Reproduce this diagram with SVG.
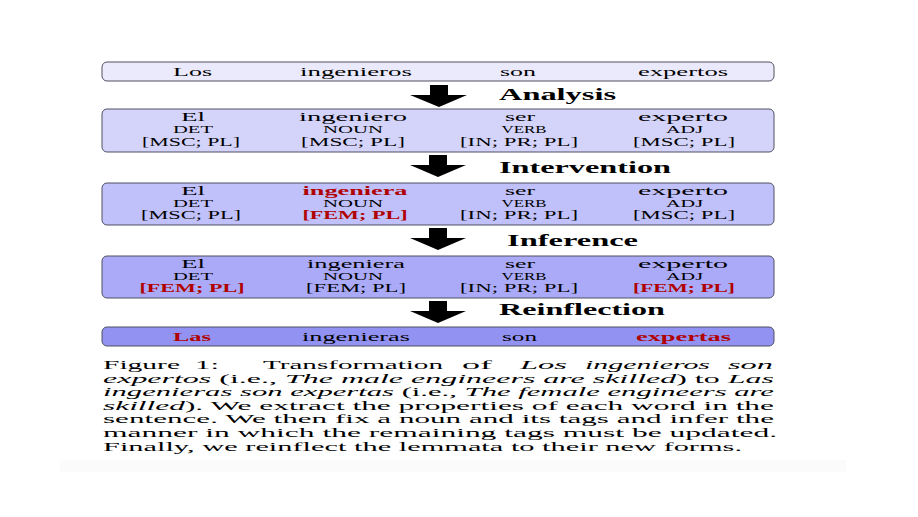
<svg xmlns="http://www.w3.org/2000/svg" width="918" height="517" viewBox="0 0 918 517">
<style>
text{font-family:"Liberation Serif","Times New Roman",serif;fill:#000}
.w{font-size:13.5px;text-anchor:middle}
.t{font-size:10px;text-anchor:middle}
.f{font-size:12.5px;text-anchor:middle}
.r{fill:#b00000;font-weight:bold}
.lab{font-size:17.5px;font-weight:bold}
.cap{font-size:12.5px}
.it{font-style:italic}
.box{stroke:#505060;stroke-width:1}
.arr{fill:#000}
</style>
<rect x="60" y="460" width="786" height="12" fill="#fbfbfb"/>
<g id="connectors">
<polygon class="arr" points="430,85 448,85 448,95 467,95 439,107 410,95 430,95"/>
<polygon class="arr" points="429,155 447,155 447,165 466,165 438,177 410,165 429,165"/>
<polygon class="arr" points="429,228 447,228 447,238 466,238 438,250 410,238 429,238"/>
<polygon class="arr" points="429,301 447,301 447,311 466,311 438,323 410,311 429,311"/>
</g>
<g id="label-analysis"><text class="lab" x="499" y="100" textLength="117" lengthAdjust="spacingAndGlyphs">Analysis</text></g>
<g id="label-intervention"><text class="lab" x="499" y="173" textLength="172" lengthAdjust="spacingAndGlyphs">Intervention</text></g>
<g id="label-inference"><text class="lab" x="507" y="246" textLength="131" lengthAdjust="spacingAndGlyphs">Inference</text></g>
<g id="label-reinflection"><text class="lab" x="499" y="315" textLength="166" lengthAdjust="spacingAndGlyphs">Reinflection</text></g>

<g id="box-input">
<rect class="box" x="102" y="62" width="672" height="19" rx="5" fill="#eaeafc"/>
<text class="w" x="192.5" y="76" textLength="39" lengthAdjust="spacingAndGlyphs">Los</text>
<text class="w" x="356" y="76" textLength="112" lengthAdjust="spacingAndGlyphs">ingenieros</text>
<text class="w" x="518" y="76" textLength="36" lengthAdjust="spacingAndGlyphs">son</text>
<text class="w" x="683" y="76" textLength="90" lengthAdjust="spacingAndGlyphs">expertos</text>
</g>

<g id="box-analysis">
<rect class="box" x="102" y="109" width="672" height="43" rx="5" fill="#d4d4fb"/>
<text class="w" x="193" y="121" textLength="24" lengthAdjust="spacingAndGlyphs">El</text>
<text class="t" x="193" y="133" textLength="40" lengthAdjust="spacingAndGlyphs">DET</text>
<text class="f" x="191" y="146" textLength="98" lengthAdjust="spacingAndGlyphs">[MSC; PL]</text>
<text class="w" x="353" y="121" textLength="108" lengthAdjust="spacingAndGlyphs">ingeniero</text>
<text class="t" x="353" y="133" textLength="60" lengthAdjust="spacingAndGlyphs">NOUN</text>
<text class="f" x="353" y="146" textLength="104" lengthAdjust="spacingAndGlyphs">[MSC; PL]</text>
<text class="w" x="520" y="121" textLength="30" lengthAdjust="spacingAndGlyphs">ser</text>
<text class="t" x="524" y="133" textLength="45" lengthAdjust="spacingAndGlyphs">VERB</text>
<text class="f" x="519" y="146" textLength="118" lengthAdjust="spacingAndGlyphs">[IN; PR; PL]</text>
<text class="w" x="683" y="121" textLength="90" lengthAdjust="spacingAndGlyphs">experto</text>
<text class="t" x="684.5" y="133" textLength="37" lengthAdjust="spacingAndGlyphs">ADJ</text>
<text class="f" x="684" y="146" textLength="102" lengthAdjust="spacingAndGlyphs">[MSC; PL]</text>
</g>

<g id="box-intervention">
<rect class="box" x="102" y="183" width="672" height="42" rx="5" fill="#c0c0fb"/>
<text class="w" x="193" y="195" textLength="24" lengthAdjust="spacingAndGlyphs">El</text>
<text class="t" x="193" y="207" textLength="40" lengthAdjust="spacingAndGlyphs">DET</text>
<text class="f" x="191" y="219" textLength="100" lengthAdjust="spacingAndGlyphs">[MSC; PL]</text>
<text class="w r" x="355" y="195" textLength="105" lengthAdjust="spacingAndGlyphs">ingeniera</text>
<text class="t" x="353" y="207" textLength="60" lengthAdjust="spacingAndGlyphs">NOUN</text>
<text class="f r" x="355" y="219" textLength="105" lengthAdjust="spacingAndGlyphs">[FEM; PL]</text>
<text class="w" x="520" y="195" textLength="30" lengthAdjust="spacingAndGlyphs">ser</text>
<text class="t" x="524" y="207" textLength="45" lengthAdjust="spacingAndGlyphs">VERB</text>
<text class="f" x="519" y="219" textLength="118" lengthAdjust="spacingAndGlyphs">[IN; PR; PL]</text>
<text class="w" x="683" y="195" textLength="90" lengthAdjust="spacingAndGlyphs">experto</text>
<text class="t" x="684.5" y="207" textLength="37" lengthAdjust="spacingAndGlyphs">ADJ</text>
<text class="f" x="684" y="219" textLength="102" lengthAdjust="spacingAndGlyphs">[MSC; PL]</text>
</g>

<g id="box-inference">
<rect class="box" x="102" y="256" width="672" height="42" rx="5" fill="#aaaaf8"/>
<text class="w" x="193" y="268" textLength="24" lengthAdjust="spacingAndGlyphs">El</text>
<text class="t" x="193" y="280" textLength="40" lengthAdjust="spacingAndGlyphs">DET</text>
<text class="f r" x="192" y="292" textLength="105" lengthAdjust="spacingAndGlyphs">[FEM; PL]</text>
<text class="w" x="356" y="268" textLength="98" lengthAdjust="spacingAndGlyphs">ingeniera</text>
<text class="t" x="353" y="280" textLength="60" lengthAdjust="spacingAndGlyphs">NOUN</text>
<text class="f" x="356" y="292" textLength="100" lengthAdjust="spacingAndGlyphs">[FEM; PL]</text>
<text class="w" x="520" y="268" textLength="30" lengthAdjust="spacingAndGlyphs">ser</text>
<text class="t" x="524" y="280" textLength="45" lengthAdjust="spacingAndGlyphs">VERB</text>
<text class="f" x="519" y="292" textLength="118" lengthAdjust="spacingAndGlyphs">[IN; PR; PL]</text>
<text class="w" x="683" y="268" textLength="90" lengthAdjust="spacingAndGlyphs">experto</text>
<text class="t" x="684.5" y="280" textLength="37" lengthAdjust="spacingAndGlyphs">ADJ</text>
<text class="f r" x="684" y="292" textLength="102" lengthAdjust="spacingAndGlyphs">[FEM; PL]</text>
</g>

<g id="box-reinflection">
<rect class="box" x="102" y="327" width="672" height="19" rx="5" fill="#9292f2"/>
<text class="w r" x="192" y="341" textLength="38" lengthAdjust="spacingAndGlyphs">Las</text>
<text class="w" x="356" y="341" textLength="108" lengthAdjust="spacingAndGlyphs">ingenieras</text>
<text class="w" x="519.5" y="341" textLength="35" lengthAdjust="spacingAndGlyphs">son</text>
<text class="w r" x="683.5" y="341" textLength="95" lengthAdjust="spacingAndGlyphs">expertas</text>
</g>

<g id="caption">
<text class="cap" x="103" y="369" textLength="77" lengthAdjust="spacingAndGlyphs">Figure</text>
<text class="cap" x="195" y="369" textLength="24" lengthAdjust="spacingAndGlyphs">1:</text>
<text class="cap" x="263" y="369" textLength="180" lengthAdjust="spacingAndGlyphs">Transformation</text>
<text class="cap" x="462" y="369" textLength="30" lengthAdjust="spacingAndGlyphs">of</text>
<text class="cap it" x="520" y="369" textLength="47" lengthAdjust="spacingAndGlyphs">Los</text>
<text class="cap it" x="585" y="369" textLength="125" lengthAdjust="spacingAndGlyphs">ingenieros</text>
<text class="cap it" x="728" y="369" textLength="45" lengthAdjust="spacingAndGlyphs">son</text>
<text class="cap" x="103" y="383" textLength="671" lengthAdjust="spacingAndGlyphs"><tspan class="it">expertos</tspan> (i.e., <tspan class="it">The male engineers are skilled</tspan>) to <tspan class="it">Las</tspan></text>
<text class="cap" x="103" y="396" textLength="671" lengthAdjust="spacingAndGlyphs"><tspan class="it">ingenieras son expertas</tspan> (i.e., <tspan class="it">The female engineers are</tspan></text>
<text class="cap" x="103" y="410" textLength="671" lengthAdjust="spacingAndGlyphs"><tspan class="it">skilled</tspan>). We extract the properties of each word in the</text>
<text class="cap" x="103" y="423" textLength="671" lengthAdjust="spacingAndGlyphs">sentence. We then fix a noun and its tags and infer the</text>
<text class="cap" x="103" y="437" textLength="674" lengthAdjust="spacingAndGlyphs">manner in which the remaining tags must be updated.</text>
<text class="cap" x="103" y="451" textLength="639" lengthAdjust="spacingAndGlyphs">Finally, we reinflect the lemmata to their new forms.</text>
</g>
</svg>
